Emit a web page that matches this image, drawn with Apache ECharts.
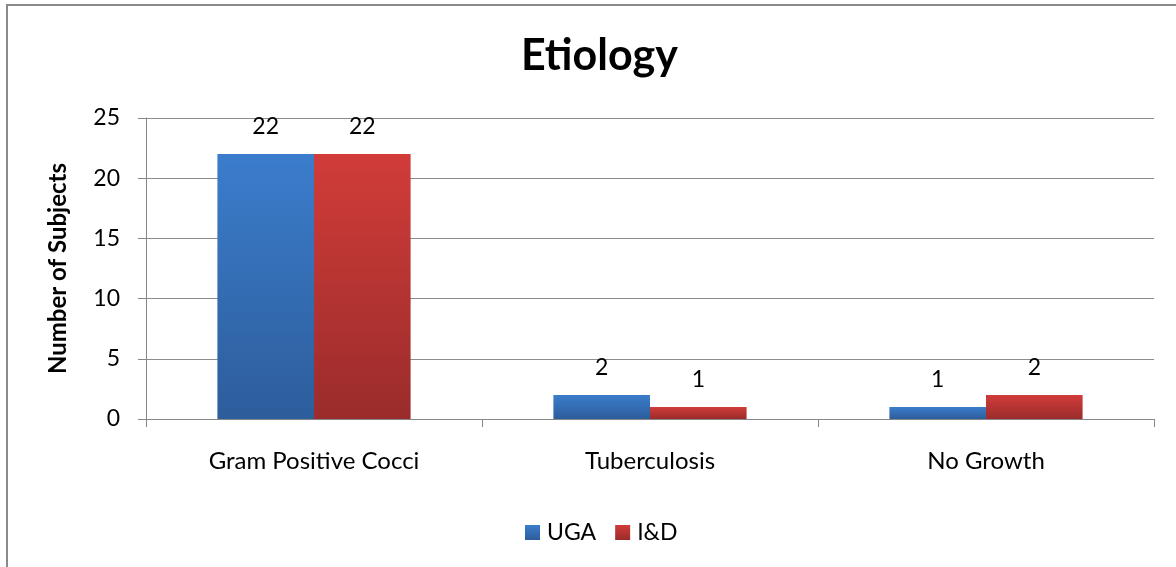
<!DOCTYPE html>
<html>
<head>
<meta charset="utf-8">
<script src="https://cdn.jsdelivr.net/npm/echarts@6/dist/echarts.min.js"></script>
<style>html,body{margin:0;padding:0;background:#fff}#c{width:1176px;height:567px}</style>
</head>
<body>
<div id="c"></div>
<script>
const categories = ['Gram Positive Cocci', 'Tuberculosis', 'No Growth'];
const ugaValues = [22, 2, 1];
const idValues = [22, 1, 2];
const seriesNames = ['UGA', 'I&D'];
const yTicks = [0, 5, 10, 15, 20, 25];

const FONT = 'Lato, "Open Sans", sans-serif';
function grad(top, bottom) {
  return new echarts.graphic.LinearGradient(0, 0, 0, 1, [
    { offset: 0, color: top }, { offset: 1, color: bottom }
  ]);
}
const chart = echarts.init(document.getElementById('c'));
chart.setOption({
  animation: false,
  backgroundColor: '#fff',
  title: {
    text: 'Etiology', left: 516, top: 30,
    textStyle: { fontFamily: FONT, fontSize: 43, fontWeight: 'bold', color: '#000' }
  },
  graphic: [{
    type: 'rect', shape: { x: 7, y: 5, width: 1200, height: 600 },
    style: { fill: 'none', stroke: '#8a8a8a', lineWidth: 2 }, z: -1, silent: true
  }],
  legend: {
    data: seriesNames, left: 520, top: 516,
    itemWidth: 15, itemHeight: 15, itemGap: 19,
    icon: 'rect',
    textStyle: { fontFamily: FONT, fontSize: 23, color: '#000', padding: [0, 0, 0, 2] }
  },
  grid: { left: 146, right: 22, top: 118, bottom: 148 },
  xAxis: {
    type: 'category', data: categories,
    axisLine: { lineStyle: { color: '#878787', width: 1 } },
    axisTick: { show: true, length: 8, lineStyle: { color: '#878787' } },
    axisLabel: { fontFamily: FONT, fontSize: 24, color: '#000', margin: 30 }
  },
  yAxis: {
    type: 'value', min: yTicks[0], max: yTicks[yTicks.length - 1], interval: 5,
    name: 'Number of Subjects', nameLocation: 'middle', nameGap: 76, nameRotate: 90,
    nameTextStyle: { fontFamily: FONT, fontSize: 24, fontWeight: 'bold', color: '#000' },
    axisLine: { show: true, lineStyle: { color: '#878787', width: 1 } },
    axisTick: { show: true, length: 8, lineStyle: { color: '#878787' } },
    splitLine: { lineStyle: { color: '#8c8c8c', width: 1 } },
    axisLabel: { fontFamily: FONT, fontSize: 23, color: '#000', margin: 26 }
  },
  series: [
    {
      name: seriesNames[0], type: 'bar', data: ugaValues,
      barGap: '0%', barCategoryGap: '42.5%',
      itemStyle: { color: grad('#3b7dcc', '#2d5d9b') },
      label: { show: true, position: 'top', distance: 16, fontFamily: FONT, fontSize: 23, color: '#000' }
    },
    {
      name: seriesNames[1], type: 'bar', data: idValues,
      barGap: '0%', barCategoryGap: '42.5%',
      itemStyle: { color: grad('#d13c39', '#9a2c2b') },
      label: { show: true, position: 'top', distance: 16, fontFamily: FONT, fontSize: 23, color: '#000' }
    }
  ]
});
</script>
</body>
</html>
